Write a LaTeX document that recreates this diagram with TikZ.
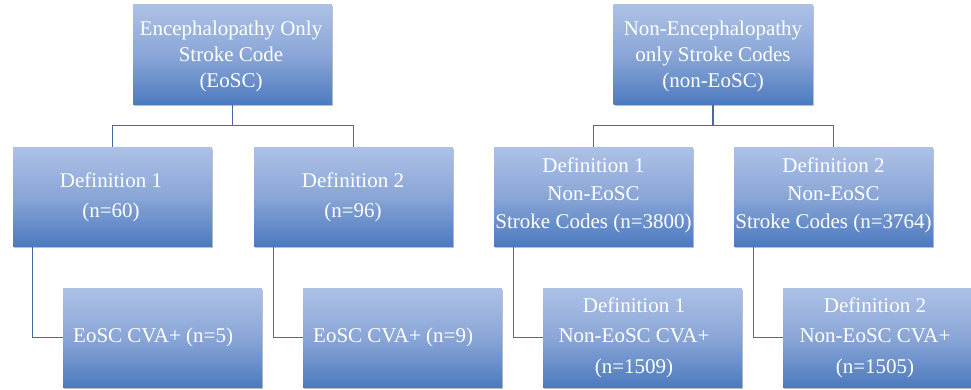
\documentclass[tikz,border=0pt]{standalone}
\usepackage{fontspec}
\setmainfont{Liberation Serif}
\usetikzlibrary{shadows}
\definecolor{gtop}{RGB}{173,193,230}
\definecolor{gmid}{RGB}{138,166,215}
\definecolor{gbot}{RGB}{76,122,191}
\definecolor{lnc}{RGB}{72,106,160}
\tikzset{
  box/.style={rectangle, minimum width=199pt, minimum height=100pt, inner sep=0pt,
    top color=gtop, bottom color=gbot, middle color=gmid,
    drop shadow={shadow xshift=1.2pt, shadow yshift=-1.5pt, fill=black, opacity=0.25}},
  txt/.style={text=white, align=center, inner sep=0pt, font=\fontsize{21}{27}\selectfont},
  conn/.style={draw=lnc, line width=1.2pt}
}
\begin{document}
\begin{tikzpicture}[x=1pt,y=1pt]
\useasboundingbox (0,0) rectangle (971,389);
% top boxes
\node[box] (tl) at (232.5,334) {};
\node[box] (tr) at (713,334) {};
% row 2
\node[box, minimum height=99pt] (a2) at (112.5,192.5) {};
\node[box, minimum height=99pt] (b2) at (353.5,192.5) {};
\node[box, minimum height=99pt] (c2) at (593.5,192.5) {};
\node[box, minimum height=99pt] (d2) at (833.5,192.5) {};
% row 3
\node[box, minimum height=99pt] (a3) at (162.5,51.5) {};
\node[box, minimum height=99pt] (b3) at (402.5,51.5) {};
\node[box, minimum height=99pt] (c3) at (642.5,51.5) {};
\node[box, minimum height=99pt, minimum width=188pt] (d3) at (877,51.5) {};
% texts
\node[txt, font=\fontsize{21}{26}\selectfont] (tlt) at (231,333) {Encephalopathy Only\\Stroke Code\\(EoSC)};
\node[txt, font=\fontsize{21}{26}\selectfont] (trt) at (713,333) {Non-Encephalopathy\\only Stroke Codes\\(non-EoSC)};
\node[txt, font=\fontsize{21}{30}\selectfont] (a2t) at (111,192) {Definition 1\\(n=60)};
\node[txt, font=\fontsize{21}{30}\selectfont] (b2t) at (353,192) {Definition 2\\(n=96)};
\node[txt, font=\fontsize{21}{28}\selectfont] (c2t) at (593.5,194) {Definition 1\\Non-EoSC\\Stroke Codes (n=3800)};
\node[txt, font=\fontsize{21}{28}\selectfont] (d2t) at (833.5,194) {Definition 2\\Non-EoSC\\Stroke Codes (n=3764)};
\node[txt, anchor=west] (a3t) at (73,52) {EoSC CVA+ (n=5)};
\node[txt, anchor=west] (b3t) at (313,52) {EoSC CVA+ (n=9)};
\node[txt, font=\fontsize{21}{30.5}\selectfont] (c3t) at (634,51.5) {Definition 1\\Non-EoSC CVA+\\(n=1509)};
\node[txt, font=\fontsize{21}{30.5}\selectfont] (d3t) at (875,51.5) {Definition 2\\Non-EoSC CVA+\\(n=1505)};
% connectors
\draw[conn] (tl.south) -- ++(0,-20) -| (a2.north);
\draw[conn] (tl.south) -- ++(0,-20) -| (b2.north);
\draw[conn] (tr.south) -- ++(0,-20) -| (c2.north);
\draw[conn] (tr.south) -- ++(0,-20) -| (d2.north);
\draw[conn] ([xshift=20pt]a2.south west) |- (a3.west);
\draw[conn] ([xshift=20pt]b2.south west) |- (b3.west);
\draw[conn] ([xshift=20pt]c2.south west) |- (c3.west);
\draw[conn] ([xshift=20pt]d2.south west) |- (d3.west);
\end{tikzpicture}
\end{document}
